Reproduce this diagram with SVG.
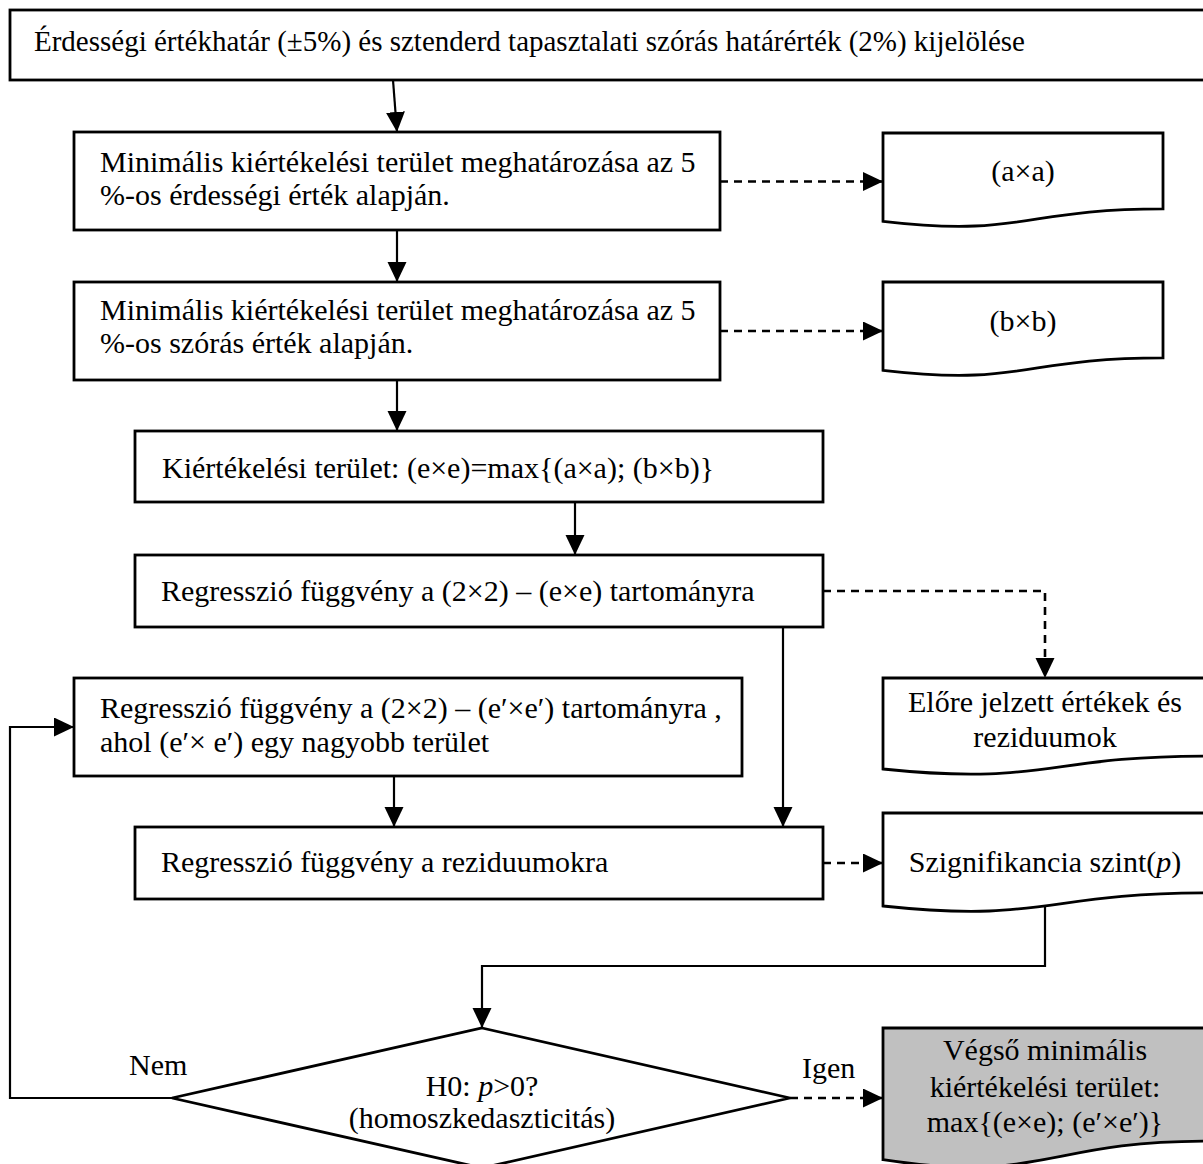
<svg xmlns="http://www.w3.org/2000/svg" width="1203" height="1164" viewBox="0 0 1203 1164">
<style>
.box{fill:#fff;stroke:#000;stroke-width:2.8}
.grey{fill:#c0c0c0;stroke:#000;stroke-width:2.8}
.ln{fill:none;stroke:#000;stroke-width:2.2}
.dash{stroke-width:2.6;stroke-dasharray:8 6}
text{font-family:"Liberation Serif","Times New Roman",serif;font-size:30px;fill:#000}
.t1{font-size:29px}
.c{text-anchor:middle}
</style>
<defs>
<marker id="ah" markerUnits="userSpaceOnUse" markerWidth="20" markerHeight="20" refX="20" refY="9.5" orient="auto">
<path d="M0,0 L20,9.5 L0,19 Z" fill="#000"/>
</marker>
</defs>
<rect width="1203" height="1164" fill="#fff"/>
<g id="connectors">
<path class="ln" d="M393,80 L397,132" marker-end="url(#ah)"/>
<path class="ln" d="M397,230 L397,282" marker-end="url(#ah)"/>
<path class="ln" d="M397,380 L397,431" marker-end="url(#ah)"/>
<path class="ln" d="M575,502 L575,555" marker-end="url(#ah)"/>
<path class="ln" d="M394,776 L394,827" marker-end="url(#ah)"/>
<path class="ln" d="M783,627 L783,827" marker-end="url(#ah)"/>
<path class="ln dash" d="M720,181.5 H883" marker-end="url(#ah)"/>
<path class="ln dash" d="M720,331 H883" marker-end="url(#ah)"/>
<path class="ln dash" d="M823,591 H1045 V678" marker-end="url(#ah)"/>
<path class="ln dash" d="M823,863 H883" marker-end="url(#ah)"/>
<path class="ln" d="M1045,906 V966 H482 V1028" marker-end="url(#ah)"/>
<path class="ln" d="M172,1098 H10 V727 H74" marker-end="url(#ah)"/>
<path class="ln dash" d="M790,1098 H883" marker-end="url(#ah)"/>
</g>
<g id="n1">
<rect class="box" x="10" y="10" width="1200" height="70"/>
<text class="t1" x="34" y="51">Érdességi értékhatár (±5%) és sztenderd tapasztalati szórás határérték (2%) kijelölése</text>
</g>
<g id="n2">
<rect class="box" x="74" y="132" width="646" height="98"/>
<text x="100" y="172">Minimális kiértékelési terület meghatározása az 5</text>
<text x="100" y="205">%-os érdességi érték alapján.</text>
</g>
<g id="n3">
<path class="box" d="M883,133 H1163 V208.8 C1023,208.8 1023,237.7 883,221.3 Z"/>
<text class="c" x="1023" y="181">(a×a)</text>
</g>
<g id="n4">
<rect class="box" x="74" y="282" width="646" height="98"/>
<text x="100" y="320">Minimális kiértékelési terület meghatározása az 5</text>
<text x="100" y="353">%-os szórás érték alapján.</text>
</g>
<g id="n5">
<path class="box" d="M883,282 H1163 V357.8 C1023,357.8 1023,386.7 883,370.3 Z"/>
<text class="c" x="1023" y="331">(b×b)</text>
</g>
<g id="n6">
<rect class="box" x="135" y="431" width="688" height="71"/>
<text x="162" y="478">Kiértékelési terület: (e×e)=max{(a×a); (b×b)}</text>
</g>
<g id="n7">
<rect class="box" x="135" y="555" width="688" height="72"/>
<text x="161" y="601">Regresszió függvény a (2×2) – (e×e) tartományra</text>
</g>
<g id="n8">
<path class="box" d="M883,678 H1207 V756.1 C1045,756.1 1045,785.9 883,769 Z"/>
<text class="c" x="1045" y="712">Előre jelzett értékek és</text>
<text class="c" x="1045" y="747">reziduumok</text>
</g>
<g id="n9">
<rect class="box" x="74" y="678" width="668" height="98"/>
<text x="100" y="718">Regresszió függvény a (2×2) – (e′×e′) tartományra ,</text>
<text x="100" y="752">ahol (e′× e′) egy nagyobb terület</text>
</g>
<g id="n10">
<rect class="box" x="135" y="827" width="688" height="72"/>
<text x="161" y="872">Regresszió függvény a reziduumokra</text>
</g>
<g id="n11">
<path class="box" d="M883,813 H1207 V892.9 C1045,892.9 1045,923.3 883,906 Z"/>
<text class="c" x="1045" y="872">Szignifikancia szint(<tspan font-style="italic">p</tspan>)</text>
</g>
<g id="n12">
<polygon class="box" points="482,1028 790,1098 482,1168 172,1098"/>
<text class="c" x="482" y="1096">H0: <tspan font-style="italic">p</tspan>&gt;0?</text>
<text class="c" x="482" y="1128">(homoszkedaszticitás)</text>
</g>
<g id="n13">
<path class="grey" d="M883,1028 H1207 V1141.1 C1045,1141.1 1045,1184.2 883,1159.7 Z"/>
<text class="c" x="1045" y="1060">Végső minimális</text>
<text class="c" x="1045" y="1097">kiértékelési terület:</text>
<text class="c" x="1045" y="1132">max{(e×e); (e′×e′)}</text>
</g>
<g id="labels">
<text x="129" y="1075">Nem</text>
<text x="802" y="1078">Igen</text>
</g>
</svg>
